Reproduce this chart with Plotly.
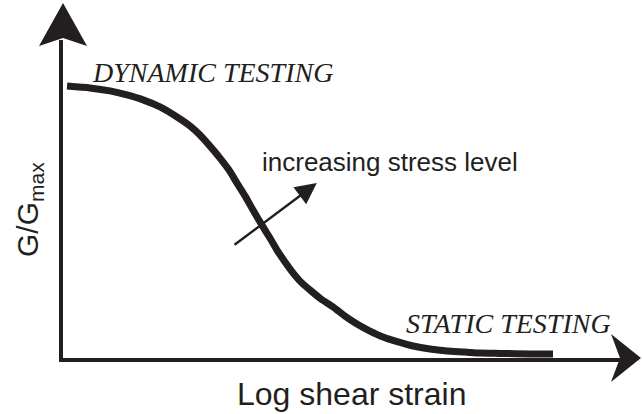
import plotly.graph_objects as go

# Data (x: log shear strain, arbitrary units; y: G/Gmax)
log_strain = [0.082, 0.551, 0.959, 1.306, 1.633, 1.980, 2.327, 2.592, 2.796, 3.000,
              3.204, 3.388, 3.551, 3.714, 3.878, 4.082, 4.224, 4.367, 4.531, 4.694,
              4.857, 5.041, 5.265, 5.510, 5.755, 6.000, 6.265, 6.531, 6.837, 7.143,
              7.490, 7.837, 8.204, 8.510, 8.918, 9.531, 10.0]
g_ratio = [1.000, 0.993, 0.982, 0.967, 0.949, 0.923, 0.886, 0.853, 0.820, 0.779,
           0.735, 0.691, 0.643, 0.596, 0.544, 0.482, 0.441, 0.397, 0.353, 0.313,
           0.279, 0.250, 0.217, 0.188, 0.154, 0.125, 0.099, 0.077, 0.059, 0.044,
           0.033, 0.026, 0.022, 0.018, 0.017, 0.015, 0.015]

# stress-level arrow (tail -> tip), in data units
stress_tail = (3.47, 0.412)
stress_tip = (5.18, 0.643)

INK = "#231f20"
W, H = 643, 414
ML, MB, MT, MR = 63, 56, 40, 23
PW, PH = W - ML - MR, H - MT - MB


def pp(px, py):
    """pixel -> paper coordinates"""
    return (px - ML) / PW, (H - MB - py) / PH


def path(points):
    s = ""
    for i, (px, py) in enumerate(points):
        x, y = pp(px, py)
        s += ("M" if i == 0 else "L") + f"{x:.5f},{y:.5f} "
    return s + "Z"


fig = go.Figure()
fig.add_trace(go.Scatter(
    x=log_strain, y=g_ratio, mode="lines",
    line=dict(color=INK, width=7, shape="spline", smoothing=0.6),
    hoverinfo="skip", showlegend=False,
))

shapes = [
    dict(type="path", xref="paper", yref="paper", layer="above",
         path=path([(63, 3), (87, 46), (63, 38), (39, 46)]),
         fillcolor=INK, line=dict(width=0)),
    dict(type="path", xref="paper", yref="paper", layer="above",
         path=path([(641, 358), (611, 382), (620, 358), (611, 334)]),
         fillcolor=INK, line=dict(width=0)),
]

annotations = [
    dict(x=stress_tip[0], y=stress_tip[1], ax=stress_tail[0], ay=stress_tail[1],
         xref="x", yref="y", axref="x", ayref="y", text="", showarrow=True,
         arrowhead=2, arrowwidth=2.5, arrowsize=1.7, arrowcolor=INK),
    dict(x=pp(90, 0)[0], y=pp(0, 72)[1], xref="paper", yref="paper",
         xanchor="left", yanchor="middle", showarrow=False,
         text="<i>DYNAMIC TESTING</i>",
         font=dict(family="Liberation Serif", size=28, color=INK)),
    dict(x=pp(613, 0)[0], y=pp(0, 323)[1], xref="paper", yref="paper",
         xanchor="right", yanchor="middle", showarrow=False,
         text="<i>STATIC TESTING</i>",
         font=dict(family="Liberation Serif", size=28, color=INK)),
    dict(x=pp(260, 0)[0], y=pp(0, 162)[1], xref="paper", yref="paper",
         xanchor="left", yanchor="middle", showarrow=False,
         text="increasing stress level",
         font=dict(family="Liberation Sans", size=26, color=INK)),
    dict(x=pp(351, 0)[0], y=pp(0, 394)[1], xref="paper", yref="paper",
         xanchor="center", yanchor="middle", showarrow=False,
         text="Log shear strain",
         font=dict(family="Liberation Sans", size=32, color=INK)),
    dict(x=pp(29, 0)[0], y=pp(0, 210)[1], xref="paper", yref="paper",
         xanchor="center", yanchor="middle", showarrow=False, textangle=-90,
         text="G/G<sub>max</sub>",
         font=dict(family="Liberation Sans", size=30, color=INK)),
]

x_scale = 49.0   # pixels per unit
y_scale = 272.0  # pixels per unit

fig.update_layout(
    width=W, height=H,
    margin=dict(l=ML, r=MR, t=MT, b=MB, pad=0),
    paper_bgcolor="white", plot_bgcolor="white",
    shapes=shapes, annotations=annotations,
    xaxis=dict(range=[0, PW / x_scale], showgrid=False, zeroline=False,
               showticklabels=False, ticks="", showline=True,
               linecolor=INK, linewidth=4, fixedrange=True),
    yaxis=dict(range=[0, PH / y_scale], showgrid=False, zeroline=False,
               showticklabels=False, ticks="", showline=True,
               linecolor=INK, linewidth=4, fixedrange=True),
)

fig.write_html("out.html", config={"displayModeBar": False},
               post_script="document.body.style.margin='0px';")
